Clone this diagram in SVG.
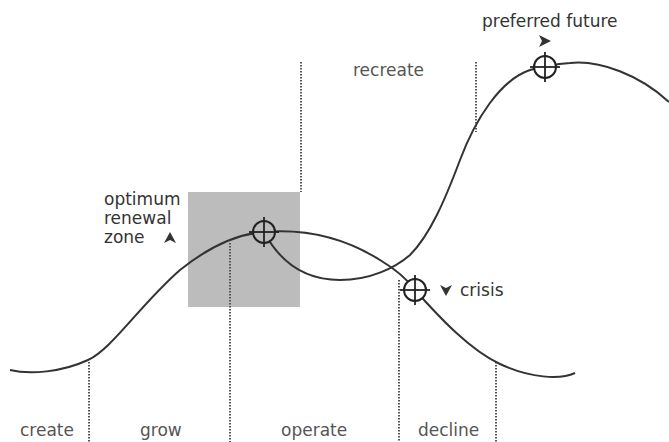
<svg xmlns="http://www.w3.org/2000/svg" width="669" height="442" viewBox="0 0 669 442">
  <style>
    .lbl { font-family: "DejaVu Sans", Verdana, sans-serif; font-size: 17px; fill: #555; }
    .dark { fill: #333; }
    .curve { fill: none; stroke: #333; stroke-width: 2; }
    .dot { fill: none; stroke: #555; stroke-width: 2; stroke-dasharray: 1.5 1.5; }
    .ring { stroke: #222; stroke-width: 2; }
    .cross { stroke: #222; stroke-width: 1.8; }
    .arr { fill: #333; }
  </style>
  <defs>
    <g id="crosshair">
      <line class="cross" x1="-15" y1="0" x2="15" y2="0"/>
      <line class="cross" x1="0" y1="-15" x2="0" y2="15"/>
    </g>
  </defs>
  <rect width="669" height="442" fill="#fff"/>
  <g id="renewal-zone">
    <rect x="188" y="192" width="112" height="115" fill="#bcbcbc"/>
  </g>
  <g id="dividers">
    <line class="dot" x1="301" y1="62" x2="301" y2="192"/>
    <line class="dot" x1="476" y1="62" x2="476" y2="132"/>
    <line class="dot" x1="89" y1="362" x2="89" y2="442"/>
    <line class="dot" x1="230" y1="243" x2="230" y2="442"/>
    <line class="dot" x1="399" y1="280" x2="399" y2="442"/>
    <line class="dot" x1="496" y1="362" x2="496" y2="442"/>
  </g>
  <g id="connectors">
    <path class="curve" d="M10,370 C30,375 62,372 88,360 C112,349 140,305 180,270 C205,250 235,234 264,232 C300,229 340,235 380,260 C400,272 410,283 415,290 C440,318 470,350 500,364 C530,378 560,380 575,373"/>
    <path class="curve" d="M264,232 C280,262 305,280 340,280 C370,280 395,268 410,255 C430,235 445,200 460,160 C475,120 500,80 530,70 C540,67 555,64 570,63 C600,60 640,75 669,102"/>
  </g>
  <g id="optimum">
    <circle class="ring" cx="264" cy="232" r="11" fill="#bcbcbc"/>
    <use href="#crosshair" x="264" y="232"/>
    <text class="lbl dark" x="104" y="205">optimum</text>
    <text class="lbl dark" x="104" y="224">renewal</text>
    <text class="lbl dark" x="104" y="243">zone</text>
    <path class="arr" d="M164,243 L170,232 L176,243 L170,240 Z"/>
  </g>
  <g id="crisis">
    <circle class="ring" cx="415" cy="290" r="11" fill="#fff"/>
    <use href="#crosshair" x="415" y="290"/>
    <path class="arr" d="M440,285 L446,296 L452,285 L446,288 Z"/>
    <text class="lbl dark" x="460" y="296">crisis</text>
  </g>
  <g id="preferred-future">
    <circle class="ring" cx="545" cy="67" r="11" fill="#fff"/>
    <use href="#crosshair" x="545" y="67"/>
    <path class="arr" d="M539,35 L551,41 L539,47 L542,41 Z"/>
    <text class="lbl dark" x="482" y="27">preferred future</text>
  </g>
  <g id="phase-labels">
    <text class="lbl" x="353" y="76">recreate</text>
    <text class="lbl" x="20" y="436">create</text>
    <text class="lbl" x="140" y="436">grow</text>
    <text class="lbl" x="281" y="436">operate</text>
    <text class="lbl" x="418" y="436">decline</text>
  </g>
</svg>
